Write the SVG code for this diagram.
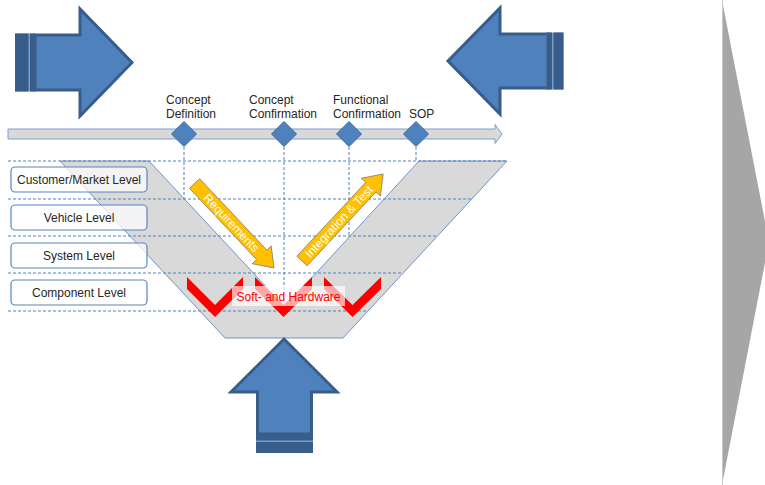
<svg xmlns="http://www.w3.org/2000/svg" width="765" height="485" viewBox="0 0 765 485">
  <style>
    .lbl { font-family: "Liberation Sans", Arial, sans-serif; font-size: 12px; fill: #262626; }
    .grid { stroke: #4f81bd; stroke-width: 1; stroke-dasharray: 3 2; fill: none; }
    .level rect { fill: #ffffff; fill-opacity: 0.7; stroke: #5a84c2; stroke-width: 1.2; }
    .level text { text-anchor: middle; }
    .blue { fill: #4f81bd; stroke: #385d8a; stroke-width: 3; stroke-linejoin: miter; }
    .stripe { fill: #385d8a; }
    .gap { fill: #7a9cc8; }
    .yellow path { fill: #ffc000; stroke: #8f8060; stroke-width: 0.8; }
    .yellow text { font-family: "Liberation Sans", Arial, sans-serif; font-size: 12px; fill: #ffffff; text-anchor: middle; }
    .chev { fill: #ff0000; }
    .ms { fill: #4f81bd; stroke: #3d6699; stroke-width: 1; }
  </style>

  <!-- process arrow on the right edge -->
  <g id="phase-arrow">
    <polygon points="722,0 769,242 722,485" fill="#a6a6a6"/>
    <line x1="722.5" y1="0" x2="722.5" y2="485" stroke="#c8c8c8" stroke-width="1"/>
  </g>

  <!-- vertical milestone guides (run beneath the V band) -->
  <g id="connectors">
    <line class="grid" x1="184" y1="147" x2="184" y2="200"/>
    <line class="grid" x1="284" y1="147" x2="284" y2="307"/>
    <line class="grid" x1="349" y1="147" x2="349" y2="238"/>
    <line class="grid" x1="416" y1="147" x2="416" y2="161"/>
  </g>

  <!-- V band -->
  <g id="v-band">
    <polygon points="60,161 149,161 285,307 419,161 507,161 343,338 225,338" fill="#d9d9d9" stroke="#6f95c8" stroke-width="1"/>
  </g>

  <!-- horizontal level guides -->
  <g id="level-guides">
    <line class="grid" x1="8" y1="161" x2="507" y2="161"/>
    <line class="grid" x1="8" y1="199" x2="472" y2="199"/>
    <line class="grid" x1="8" y1="236" x2="438" y2="236"/>
    <line class="grid" x1="8" y1="273" x2="403" y2="273"/>
    <line class="grid" x1="8" y1="311" x2="368" y2="311"/>
  </g>

  <!-- level boxes -->
  <g id="level-customer" class="level">
    <rect x="11" y="167" width="136" height="25" rx="4"/>
    <text class="lbl" x="79" y="184" text-anchor="middle">Customer/Market Level</text>
  </g>
  <g id="level-vehicle" class="level">
    <rect x="11" y="205" width="136" height="25" rx="4"/>
    <text class="lbl" x="79" y="222" text-anchor="middle">Vehicle Level</text>
  </g>
  <g id="level-system" class="level">
    <rect x="11" y="243" width="136" height="25" rx="4"/>
    <text class="lbl" x="79" y="260" text-anchor="middle">System Level</text>
  </g>
  <g id="level-component" class="level">
    <rect x="11" y="280" width="136" height="25" rx="4"/>
    <text class="lbl" x="79" y="297" text-anchor="middle">Component Level</text>
  </g>

  <!-- requirements / integration arrows -->
  <g id="requirements" class="yellow" transform="translate(194.5,183.5) rotate(46.7)">
    <path d="M0,-7 H98 V-13 L116,0 L98,13 V7 H0 Z"/>
    <text x="54" y="4.2">Requirements</text>
  </g>
  <g id="integration-test" class="yellow" transform="translate(302,261) rotate(-47)">
    <path d="M0,-7 H101 V-13 L119,0 L101,13 V7 H0 Z"/>
    <text x="54" y="4.2">Integration &amp; Test</text>
  </g>

  <!-- soft- and hardware chevrons -->
  <g id="chevrons">
    <polygon class="chev" points="187,277 215,305 243,277 243,289 215,317 187,289"/>
    <polygon class="chev" points="255,277 283.5,305 312,277 312,289 283.5,317 255,289"/>
    <polygon class="chev" points="324,277 352.5,305 381,277 381,289 352.5,317 324,289"/>
  </g>
  <g id="soft-hardware">
    <rect x="232" y="286" width="113" height="20" fill="#ffffff" fill-opacity="0.65"/>
    <text class="lbl" x="288.5" y="300.5" text-anchor="middle" style="fill:#ff0000">Soft- and Hardware</text>
  </g>

  <!-- timeline -->
  <g id="timeline">
    <path d="M8,129 H495 V124.5 L502,134 L495,143.5 V139 H8 Z" fill="#d9d9d9" stroke="#7f9fd0" stroke-width="1"/>
  </g>
  <g id="ms-concept-definition">
    <polygon class="ms" points="184,121.5 196.5,134 184,146.5 171.5,134"/>
    <text class="lbl" x="166" y="104">Concept</text>
    <text class="lbl" x="166" y="117.5">Definition</text>
  </g>
  <g id="ms-concept-confirmation">
    <polygon class="ms" points="284,121.5 296.5,134 284,146.5 271.5,134"/>
    <text class="lbl" x="249" y="104">Concept</text>
    <text class="lbl" x="249" y="117.5">Confirmation</text>
  </g>
  <g id="ms-functional-confirmation">
    <polygon class="ms" points="349,121.5 361.5,134 349,146.5 336.5,134"/>
    <text class="lbl" x="333" y="104">Functional</text>
    <text class="lbl" x="333" y="117.5">Confirmation</text>
  </g>
  <g id="ms-sop">
    <polygon class="ms" points="416,121.5 428.5,134 416,146.5 403.5,134"/>
    <text class="lbl" x="409" y="117.5">SOP</text>
  </g>

  <!-- striped block arrows -->
  <g id="arrow-left">
    <path class="blue" d="M35,35 H80 V9 L132,62.5 L80,116 V90 H35 Z"/>
    <rect class="gap" x="15" y="33.5" width="20" height="58"/>
    <rect class="stripe" x="15" y="33.5" width="13.5" height="58"/>
    <rect class="stripe" x="30" y="33.5" width="5" height="58"/>
  </g>
  <g id="arrow-right">
    <path class="blue" d="M548,34 H500 V8 L448,61 L500,114 V88 H548 Z"/>
    <rect class="gap" x="546.5" y="32.5" width="17" height="57"/>
    <rect class="stripe" x="553.5" y="32.5" width="10" height="57"/>
    <rect class="stripe" x="546.5" y="32.5" width="5.5" height="57"/>
  </g>
  <g id="arrow-up">
    <path class="blue" d="M257.5,434 V392 H231 L284,339 L337,392 H311.5 V434 Z"/>
    <rect class="gap" x="256" y="433" width="57" height="20"/>
    <rect class="stripe" x="256" y="442" width="57" height="11"/>
    <rect class="stripe" x="256" y="433" width="57" height="7.5"/>
  </g>
</svg>
